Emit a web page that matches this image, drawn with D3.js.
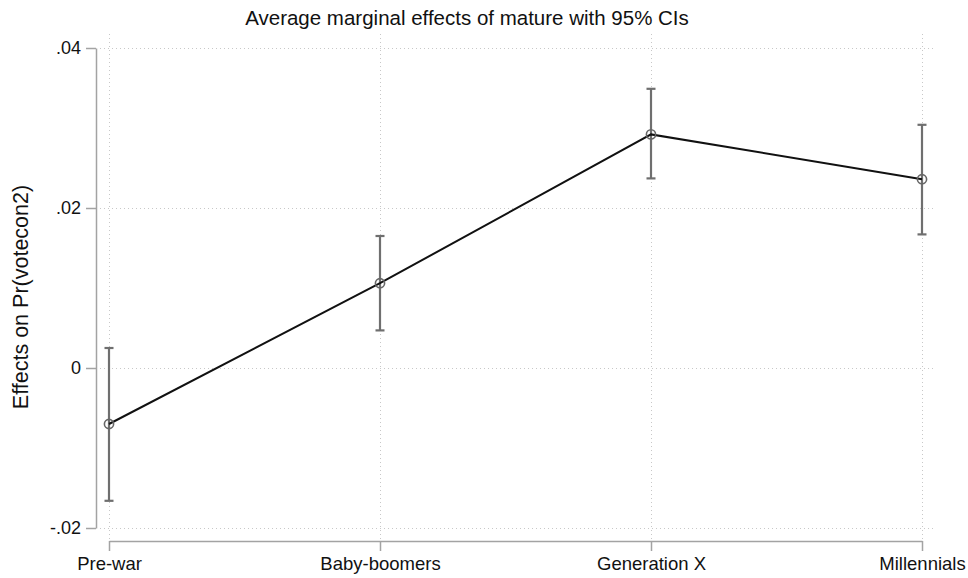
<!DOCTYPE html>
<html>
<head>
<meta charset="utf-8">
<script src="https://cdn.jsdelivr.net/npm/d3@7"></script>
<style>
  html, body { margin: 0; padding: 0; background: #fff; }
  svg { display: block; font-family: "Liberation Sans", Arial, Helvetica, sans-serif; }
</style>
</head>
<body>
<svg id="chart" width="968" height="578"></svg>
<script>
// Cohorts and average marginal effects with 95% confidence bounds
const categories = ["Pre-war", "Baby-boomers", "Generation X", "Millennials"];
const effects    = [-0.0070, 0.0106, 0.0292, 0.0236];
const ciLower    = [-0.0166, 0.0047, 0.0237, 0.0167];
const ciUpper    = [ 0.0025, 0.0165, 0.0349, 0.0304];
const yTicks     = [-0.02, 0, 0.02, 0.04];
const yTickLabels = ["-.02", "0", ".02", ".04"];

const titleText = "Average marginal effects of mature with 95% CIs";
const yTitle = "Effects on Pr(votecon2)";

const svg = d3.select("#chart");

const x = d3.scalePoint().domain(categories).range([109, 922]);
const y = d3.scaleLinear().domain([-0.02, 0.04]).range([528, 48]);

const rows = categories.map((c, i) => ({ cat: c, est: effects[i], lo: ciLower[i], hi: ciUpper[i] }));

// Dotted grid
const grid = svg.append("g").attr("stroke", "#c8c8c8").attr("stroke-width", 1)
  .attr("stroke-dasharray", "1,3");
grid.selectAll("line.h").data(yTicks).join("line").attr("class", "h")
  .attr("x1", 100).attr("x2", 934)
  .attr("y1", d => y(d) + 0.5).attr("y2", d => y(d) + 0.5);
grid.selectAll("line.v").data(categories).join("line").attr("class", "v")
  .attr("x1", d => x(d) + 0.5).attr("x2", d => x(d) + 0.5)
  .attr("y1", 34).attr("y2", 541);

// Y axis
const yAxis = d3.axisLeft(y).tickValues(yTicks)
  .tickFormat((d, i) => yTickLabels[i]).tickSize(10).tickPadding(5).tickSizeOuter(0);
const gy = svg.append("g").attr("transform", "translate(96,0)").call(yAxis);
gy.select(".domain").attr("stroke", "#a3a3a3").attr("stroke-width", 1.5);
gy.selectAll(".tick line").attr("stroke", "#a3a3a3").attr("stroke-width", 1.5);
gy.selectAll(".tick text").attr("font-size", 18).attr("fill", "#111")
  .attr("font-family", "Liberation Sans, Arial, sans-serif");

// X axis
const xAxis = d3.axisBottom(x).tickSize(10).tickPadding(6).tickSizeOuter(0);
const gx = svg.append("g").attr("transform", "translate(0,541)").call(xAxis);
gx.select(".domain").attr("stroke", "#a3a3a3").attr("stroke-width", 1.5);
gx.selectAll(".tick line").attr("stroke", "#a3a3a3").attr("stroke-width", 1.5);
gx.selectAll(".tick text").attr("font-size", 18.5).attr("fill", "#111")
  .attr("font-family", "Liberation Sans, Arial, sans-serif");

// Confidence intervals
const ci = svg.append("g").attr("stroke", "#6f6f6f").attr("stroke-width", 2.2).attr("fill", "none");
ci.selectAll("line.bar").data(rows).join("line").attr("class", "bar")
  .attr("x1", d => x(d.cat)).attr("x2", d => x(d.cat))
  .attr("y1", d => y(d.lo)).attr("y2", d => y(d.hi));
ci.selectAll("line.capHi").data(rows).join("line").attr("class", "capHi")
  .attr("x1", d => x(d.cat) - 4.5).attr("x2", d => x(d.cat) + 4.5)
  .attr("y1", d => y(d.hi)).attr("y2", d => y(d.hi));
ci.selectAll("line.capLo").data(rows).join("line").attr("class", "capLo")
  .attr("x1", d => x(d.cat) - 4.5).attr("x2", d => x(d.cat) + 4.5)
  .attr("y1", d => y(d.lo)).attr("y2", d => y(d.lo));

// Connecting line through the estimates
svg.append("path").datum(rows)
  .attr("fill", "none").attr("stroke", "#111").attr("stroke-width", 2)
  .attr("d", d3.line().x(d => x(d.cat)).y(d => y(d.est)));

// Hollow point markers
svg.append("g").selectAll("circle").data(rows).join("circle")
  .attr("cx", d => x(d.cat)).attr("cy", d => y(d.est)).attr("r", 4.6)
  .attr("fill", "none").attr("stroke", "#666").attr("stroke-width", 1.6);

// Title
svg.append("text").attr("x", 467).attr("y", 25).attr("text-anchor", "middle")
  .attr("font-size", 20.5).attr("fill", "#111").text(titleText);

// Y axis title
svg.append("text").attr("transform", "translate(28,297) rotate(-90)")
  .attr("text-anchor", "middle").attr("font-size", 21.5).attr("fill", "#111").text(yTitle);
</script>
</body>
</html>
